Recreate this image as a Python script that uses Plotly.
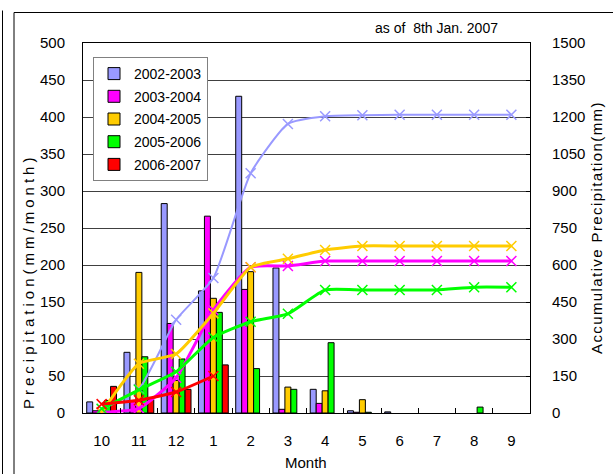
import plotly.graph_objects as go

months = ['10', '11', '12', '1', '2', '3', '4', '5', '6', '7', '8', '9']
seasons = ['2002-2003', '2003-2004', '2004-2005', '2005-2006', '2006-2007']

# monthly precipitation (mm/month)
p_0203 = [15, 82, 283, 165, 428, 196, 32, 3, 1.5, None, None, None]
p_0304 = [3, 16, 121, 266, 167, 5, 13, 1, None, None, None, None]
p_0405 = [3, 190, 44, 155, 191, 35, 30, 18, None, None, None, None]
p_0506 = [17, 76, 73, 136, 60, 32, 95, 1, None, None, 8, None]
p_0607 = [36, 18, 32, 65, None, None, None, None, None, None, None, None]

# accumulative precipitation (mm)
c_0203 = [15, 97, 378, 547, 972, 1172, 1203, 1207, 1209, 1209, 1209, 1209]
c_0304 = [3, 19, 143, 417, 591, 596, 616, 616, 616, 616, 616, 616]
c_0405 = [3, 200, 239, 404, 591, 625, 661, 677, 677, 677, 677, 677]
c_0506 = [17, 94, 167, 306, 370, 402, 499, 499, 499, 499, 510, 510]
c_0607 = [36, 52, 85, 150]

monthly = [p_0203, p_0304, p_0405, p_0506, p_0607]
accum = [c_0203, c_0304, c_0405, c_0506, c_0607]
colors = ['#9999FF', '#FF00FF', '#FFCC00', '#00FF00', '#FF0000']
line_widths = [2, 3, 3, 3, 3]

FONT = 'Liberation Sans, Arial, sans-serif'

fig = go.Figure()
for name, vals, col in zip(seasons, monthly, colors):
    fig.add_trace(go.Bar(
        x=months, y=vals, name=name, legendgroup=name,
        marker=dict(color=col, line=dict(color='black', width=1)),
    ))

for name, vals, col, lw in zip(seasons, accum, colors, line_widths):
    fig.add_trace(go.Scatter(
        x=months[:len(vals)], y=vals, yaxis='y2', mode='lines+markers',
        line=dict(color=col, width=lw, shape='spline', smoothing=0.5),
        marker=dict(symbol='x-thin', size=10, line=dict(color=col, width=1.5)),
        showlegend=False, name=name,
    ))

W, H = 613, 474
L, R, T, B = 83, 530, 43, 413
pw, ph = R - L, B - T


def px(x):
    return (x - L) / pw


def py(y):
    return (B - y) / ph


def note(text, x, y, size=15, angle=0):
    return dict(text=text, x=px(x), y=py(y), xref='paper', yref='paper',
                xanchor='center', yanchor='middle', textangle=angle,
                showarrow=False, font=dict(family=FONT, size=size, color='black'))


fig.update_layout(
    template='none',
    width=W, height=H,
    margin=dict(l=L, r=W - R, t=T, b=H - B, pad=0, autoexpand=False),
    paper_bgcolor='white', plot_bgcolor='white',
    font=dict(family=FONT, size=15, color='black'),
    barmode='group', bargap=0.2, bargroupgap=0,
    showlegend=True,
    legend=dict(
        x=px(93), y=py(57), xanchor='left', yanchor='top',
        bgcolor='white', bordercolor='#808080', borderwidth=1,
        font=dict(family=FONT, size=14, color='black'),
        traceorder='grouped', tracegroupgap=1.5,
        entrywidth=85, entrywidthmode='pixels',
    ),
    xaxis=dict(
        type='category', categoryorder='array', categoryarray=months,
        range=[-0.5, 11.5], autorange=False, automargin=False,
        showline=True, linecolor='black', linewidth=1, mirror=True,
        ticks='inside', tickson='boundaries', ticklen=5, tickcolor='black',
        showgrid=False, ticklabelstandoff=14, zeroline=False,
        tickfont=dict(family=FONT, size=15),
    ),
    yaxis=dict(
        range=[0, 500], dtick=50, tick0=0, automargin=False,
        showline=True, linecolor='black', linewidth=1, mirror=True,
        showgrid=True, gridcolor='#404040', gridwidth=1,
        ticks='', ticklabelstandoff=14, zeroline=False,
        tickfont=dict(family=FONT, size=15),
    ),
    yaxis2=dict(
        range=[0, 1500], dtick=150, tick0=0, overlaying='y', side='right',
        automargin=False,
        showgrid=False, zeroline=False, showline=True, linecolor='black',
        ticks='inside', ticklen=4, tickcolor='black', ticklabelstandoff=18,
        tickfont=dict(family=FONT, size=15),
    ),
    annotations=[
        note('as of  8th Jan. 2007', 436, 28, size=14),
        note('Month', 306, 462),
        note('<span style="letter-spacing:4px">Precipitation(mm/month)</span>', 28, 282, angle=-90),
        note('<span style="letter-spacing:1.4px">Accumulative Precipitation(mm)</span>', 596, 228, angle=-90),
    ],
    shapes=[
        dict(type='rect', xref='paper', yref='paper', x0=px(14), x1=px(660),
             y0=py(500), y1=py(12.5), line=dict(color='black', width=1)),
        dict(type='line', xref='paper', yref='paper', x0=px(2.5), x1=px(2.5),
             y0=py(10.5), y1=py(500), line=dict(color='black', width=1)),
    ],
)

fig.write_html('out.html', config={'displayModeBar': False},
               post_script="document.body.style.margin='0';document.body.style.overflow='hidden';")
